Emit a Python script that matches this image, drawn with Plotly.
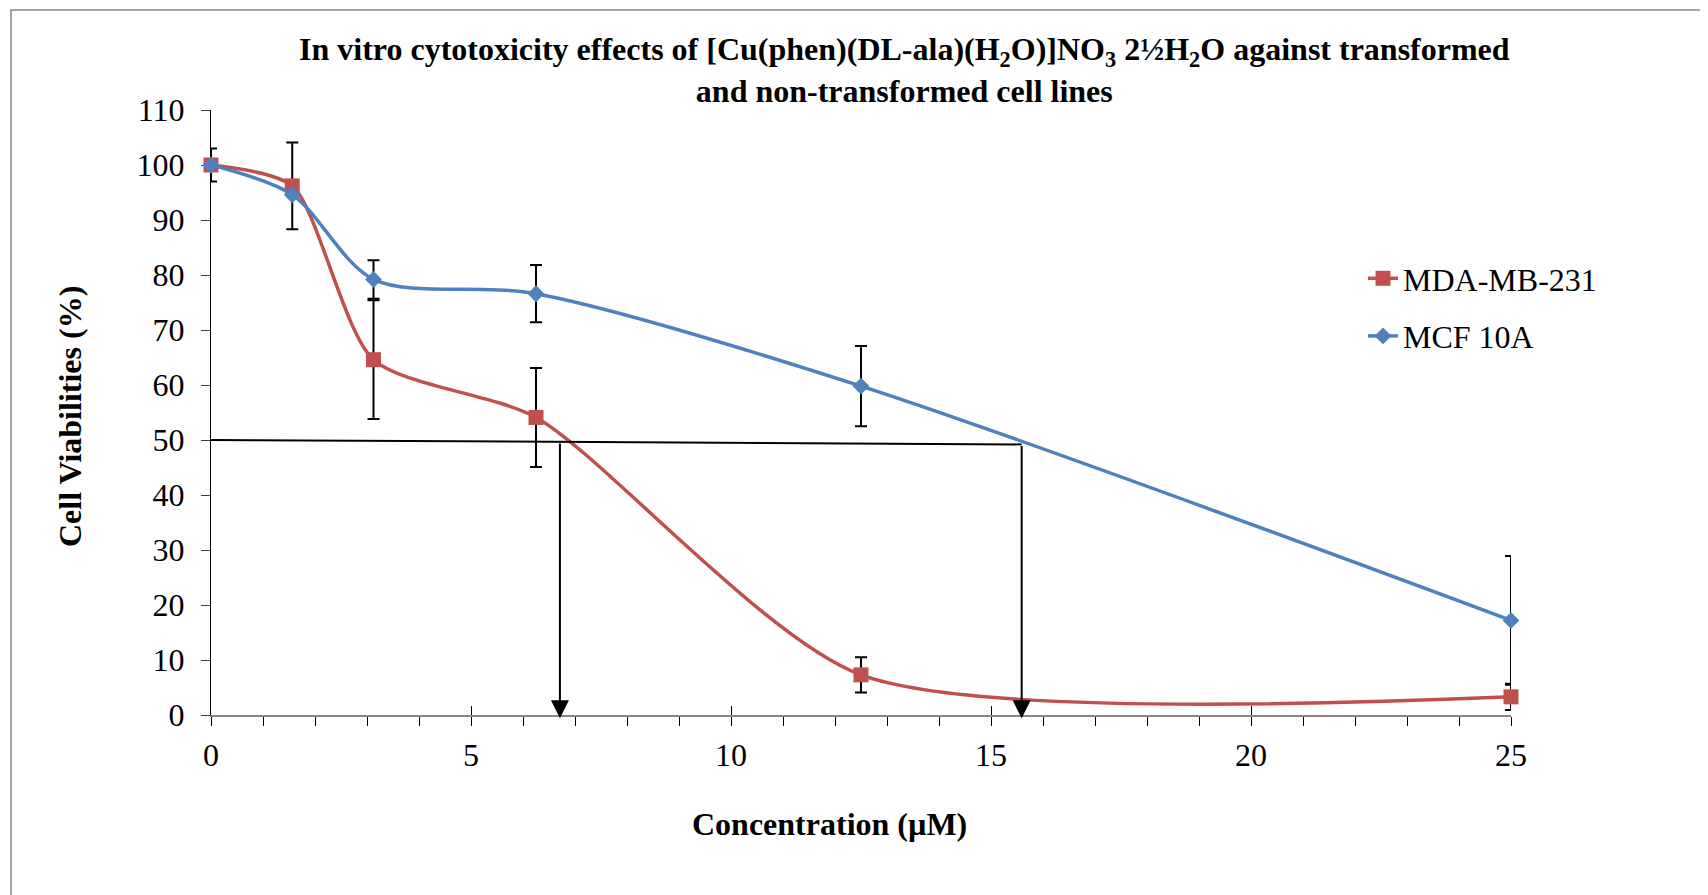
import plotly.graph_objects as go

# ---------------- data ----------------
conc = [0, 1.5625, 3.125, 6.25, 12.5, 25]
mda_viab = [100, 96.2, 64.6, 54.1, 7.3, 3.3]
mda_err = [3.0, 7.9, 10.8, 9.0, 3.2, 2.4]
mcf_viab = [100, 94.6, 79.2, 76.6, 59.8, 17.2]
mcf_err = [None, None, 3.5, 5.2, 7.3, 11.7]
series_names = ["MDA-MB-231", "MCF 10A"]

ic50_x = [6.71, 15.59]          # IC50 read-outs (MDA-MB-231, MCF 10A)
guide_y = [50.0, 49.2]          # drawn 50 % guide line: value at x=0 and at MCF IC50
x_ticks = [0, 5, 10, 15, 20, 25]
y_ticks = [0, 10, 20, 30, 40, 50, 60, 70, 80, 90, 100, 110]

title_text = ("In vitro cytotoxicity effects of [Cu(phen)(DL-ala)(H<sub>2</sub>O)]NO<sub>3</sub> "
              "2½H<sub>2</sub>O against transformed<br>and non-transformed cell lines")

FONT = "Liberation Serif, Times New Roman, serif"
RED = "#C0504D"
BLUE = "#4F81BD"

# page offset (body margin) and plot-area geometry in window px
OFF = 8
W, H = 1700, 887
PX0, PX1, PY0, PY1 = 211, 1511, 110, 715   # plot area in window px
L, T = PX0 - OFF, PY0 - OFF
PW, PH = PX1 - PX0, PY1 - PY0
R, B = W - L - PW, H - T - PH

def px2paper(px, py):
    return (px - PX0) / PW, (PY1 - py) / PH

fig = go.Figure()

fig.add_trace(go.Scatter(
    x=conc, y=mda_viab, name=series_names[0], mode="lines+markers",
    line=dict(color=RED, width=3.5, shape="spline", smoothing=0.7),
    marker=dict(symbol="square", size=15, color=RED),
    error_y=dict(type="data", array=mda_err, visible=True, color="black",
                 thickness=2, width=6),
    cliponaxis=False, legendgroup="a"))

fig.add_trace(go.Scatter(
    x=conc, y=mcf_viab, name=series_names[1], mode="lines+markers",
    line=dict(color=BLUE, width=3.5, shape="spline", smoothing=0.85),
    marker=dict(symbol="diamond", size=13, color=BLUE),
    error_y=dict(type="data", array=mcf_err, visible=True, color="black",
                 thickness=2, width=6),
    cliponaxis=False, legendgroup="b"))

# empty trace to instantiate overlay axis for crossing major ticks
fig.add_trace(go.Scatter(x=[None], y=[None], xaxis="x2", showlegend=False,
                         hoverinfo="skip"))

# guide line at 50 %
fig.add_shape(type="line", xref="x", yref="y",
              x0=conc[0], y0=guide_y[0], x1=ic50_x[1], y1=guide_y[1],
              line=dict(color="black", width=2))

# arrows down to the x-axis
slope = (guide_y[1] - guide_y[0]) / (ic50_x[1] - conc[0])
for xv in ic50_x:
    fig.add_annotation(x=xv, y=-0.6, ax=xv, ay=guide_y[0] + slope * xv,
                       xref="x", yref="y", axref="x", ayref="y",
                       showarrow=True, arrowhead=2, arrowsize=1.8,
                       arrowwidth=2, arrowcolor="black", text="", standoff=0)

# chart border (only top and left edges are inside the picture)
bx0, by1 = px2paper(11, 10)
fig.add_shape(type="rect", xref="paper", yref="paper",
              x0=bx0, y0=-1, x1=2, y1=by1,
              line=dict(color="#868686", width=1.5), layer="below")

# title
tx, ty = px2paper(904, 69.5)
fig.add_annotation(
    text=title_text, xref="paper", yref="paper", x=tx, y=ty,
    xanchor="center", yanchor="middle", showarrow=False,
    font=dict(family=FONT, size=32, color="black", weight="bold"))

# axis titles
xtx, xty = px2paper(829, 824)
fig.add_annotation(text="<b>Concentration (µM)</b>", xref="paper", yref="paper",
                   x=xtx, y=xty, xanchor="center", yanchor="middle", showarrow=False,
                   font=dict(family=FONT, size=32, color="black"))
ytx, yty = px2paper(70, 417)
fig.add_annotation(text="<b>Cell Viabilities (%)</b>", xref="paper", yref="paper",
                   x=ytx, y=yty, xanchor="center", yanchor="middle", showarrow=False,
                   textangle=-90, font=dict(family=FONT, size=32, color="black"))

lgx, lgy = px2paper(1363, 251)

fig.update_layout(
    width=W, height=H,
    margin=dict(l=L, r=R, t=T, b=B, pad=0),
    paper_bgcolor="white", plot_bgcolor="white",
    font=dict(family=FONT, size=32, color="black"),
    showlegend=True,
    legend=dict(x=lgx, y=lgy, xanchor="left", yanchor="top",
                font=dict(family=FONT, size=32, color="black"),
                bgcolor="rgba(0,0,0,0)", tracegroupgap=13,
                traceorder="grouped"),
    xaxis=dict(range=[0, 25], tickvals=x_ticks, ticks="outside", ticklen=9,
               tickwidth=1, tickcolor="black", showline=True, linecolor="#868686",
               linewidth=2, showgrid=False, zeroline=False, layer="below traces",
               tickfont=dict(family=FONT, size=32), ticklabelstandoff=2,
               minor=dict(dtick=1, tick0=0, ticks="outside", ticklen=9,
                          tickwidth=1, tickcolor="black")),
    xaxis2=dict(range=[0, 25], overlaying="x", anchor="y", side="bottom",
                tickvals=x_ticks, ticks="inside", ticklen=9, tickwidth=1,
                tickcolor="black", showticklabels=False, showline=False,
                showgrid=False, zeroline=False),
    yaxis=dict(range=[0, 110], tickvals=y_ticks, ticks="outside", ticklen=9,
               tickwidth=1, tickcolor="#404040", showline=True, linecolor="black",
               linewidth=1, showgrid=False, zeroline=False, layer="below traces",
               tickfont=dict(family=FONT, size=32), ticklabelstandoff=10),
)

fig.write_html("out.html")
